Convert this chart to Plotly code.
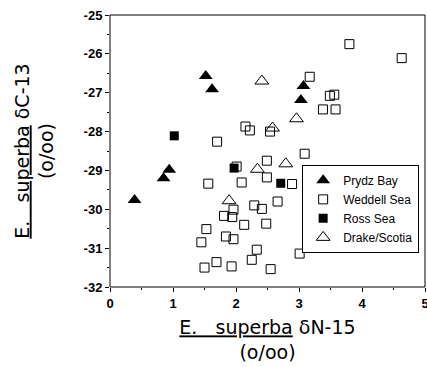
import plotly.graph_objects as go

# Prydz Bay (filled triangles)
prydz_x = [0.39, 0.85, 0.94, 1.52, 1.62, 3.07, 3.03]
prydz_y = [-29.76, -29.20, -28.98, -26.57, -26.91, -26.83, -27.19]

# Weddell Sea (open squares)
weddell_x = [3.80, 4.63, 3.17, 3.49, 3.56, 3.38, 3.58, 2.15, 2.22, 1.70, 3.09, 2.54,
             2.01, 2.49, 2.49, 1.56, 2.09, 2.89, 2.66, 2.29, 2.41, 1.96, 1.81, 1.94,
             2.13, 2.48, 1.53, 1.45, 1.84, 1.96, 2.33, 2.25, 1.50, 1.69, 1.93, 2.55, 3.01]
weddell_y = [-25.75, -26.11, -26.59, -27.08, -27.05, -27.43, -27.43, -27.87, -27.97, -28.26, -28.57, -28.00,
             -28.90, -28.75, -29.18, -29.34, -29.31, -29.35, -29.80, -29.90, -29.99, -30.01, -30.17, -30.20,
             -30.40, -30.37, -30.51, -30.85, -30.70, -30.77, -31.04, -31.30, -31.50, -31.36, -31.47, -31.54, -31.14]

# Ross Sea (filled squares)
ross_x = [1.02, 1.97, 2.71]
ross_y = [-28.11, -28.94, -29.33]

# Drake/Scotia (open triangles)
drake_x = [2.41, 2.58, 2.96, 2.79, 2.34, 1.89]
drake_y = [-26.70, -27.91, -27.67, -28.83, -28.97, -29.78]

x_ticks = [0, 1, 2, 3, 4, 5]
y_ticks = [-25, -26, -27, -28, -29, -30, -31, -32]

FONT = "Liberation Sans, Arial, sans-serif"
TFONT = "DejaVu Sans, sans-serif"

fig = go.Figure()
fig.add_trace(go.Scatter(x=prydz_x, y=prydz_y, mode="markers", name="Prydz Bay",
                         marker=dict(symbol="triangle-up", size=12, color="black",
                                     line=dict(width=0))))
fig.add_trace(go.Scatter(x=weddell_x, y=weddell_y, mode="markers", name="Weddell Sea",
                         marker=dict(symbol="square-open", size=9, color="black",
                                     line=dict(width=1))))
fig.add_trace(go.Scatter(x=ross_x, y=ross_y, mode="markers", name="Ross Sea",
                         marker=dict(symbol="square", size=9, color="black",
                                     line=dict(width=0))))
fig.add_trace(go.Scatter(x=drake_x, y=drake_y, mode="markers", name="Drake/Scotia",
                         marker=dict(symbol="triangle-up-open", size=12, color="black",
                                     line=dict(width=1))))

axis_common = dict(showline=False, showgrid=False, zeroline=False,
                   ticks="outside", ticklen=4, automargin=False,
                   ticklabeloverflow="allow",
                   tickcolor="black",
                   tickfont=dict(family=FONT, size=13, color="black", weight="bold"),
                   minor=dict(ticks="outside", ticklen=2, dtick=0.5, tickcolor="black"))

fig.update_layout(
    template="none",
    width=427, height=367,
    margin=dict(l=110, r=2, t=15, b=80),
    paper_bgcolor="white", plot_bgcolor="white",
    font=dict(family=FONT, color="black"),
    xaxis=dict(range=[0, 5], tickvals=x_ticks, ticktext=[str(v) for v in x_ticks],
               title=dict(text="<u>E.   superba</u> δN-15<br>(o/oo)",
                          font=dict(family=TFONT, size=19), standoff=11),
               **axis_common),
    yaxis=dict(range=[-32, -25], tickvals=y_ticks, ticktext=[str(v) for v in y_ticks],
               title=dict(text="<u>E.   superba</u> δC-13<br>(o/oo)",
                          font=dict(family=TFONT, size=19), standoff=24),
               **axis_common),
    shapes=[dict(type="rect", xref="paper", yref="paper", x0=0, x1=1, y0=0, y1=1,
                 line=dict(color="black", width=1), fillcolor="rgba(0,0,0,0)",
                 layer="above")],
    legend=dict(x=0.61, y=0.449, xanchor="left", yanchor="top",
                bordercolor="black", borderwidth=1, bgcolor="white",
                font=dict(family=FONT, size=12, color="black"),
                tracegroupgap=0, itemwidth=30),
    showlegend=True,
)

fig.write_html("out.html")
